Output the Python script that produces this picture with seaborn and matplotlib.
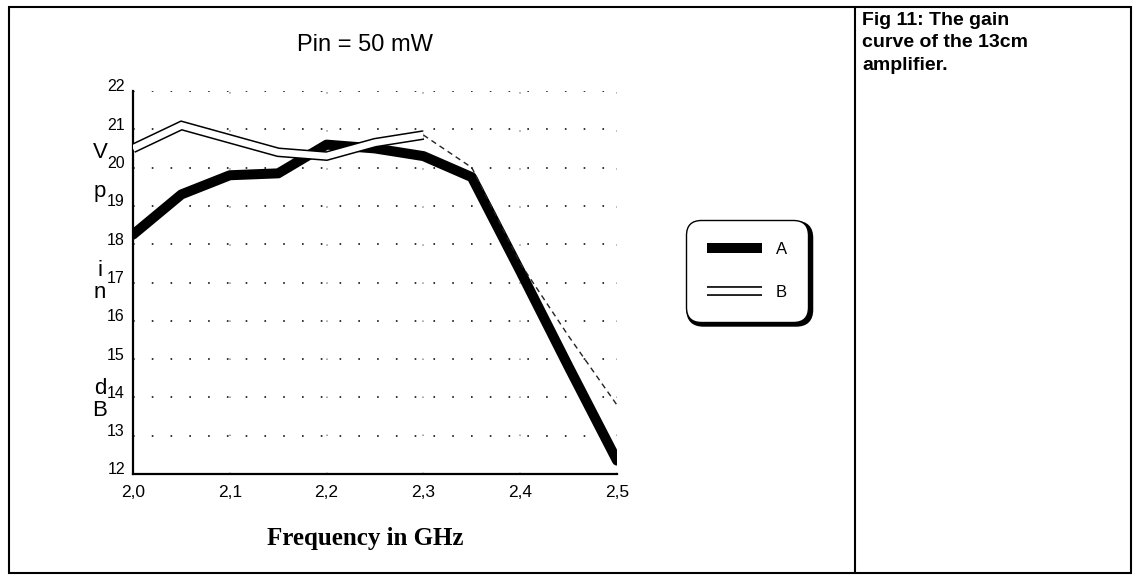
import numpy as np
import pandas as pd
import matplotlib
matplotlib.use("Agg")
import matplotlib.pyplot as plt
from matplotlib.lines import Line2D
from matplotlib.patches import Rectangle
from matplotlib.legend_handler import HandlerTuple
from matplotlib.transforms import ScaledTranslation
import seaborn as sns

# Measured gain of the 13cm amplifier at Pin = 50 mW
freq_ghz = [2.00, 2.05, 2.10, 2.15, 2.20, 2.25, 2.30, 2.35, 2.40, 2.45, 2.50]
gain_a = [18.25, 19.3, 19.8, 19.85, 20.6, 20.5, 20.3, 19.75, 17.3, 14.8, 12.35]
gain_b = [20.5, 21.1, 20.75, 20.4, 20.3, 20.65, 20.85, 20.0, 17.5, 15.6, 13.8]
series_names = ["A", "B"]
x_ticks = [2.0, 2.1, 2.2, 2.3, 2.4, 2.5]
x_tick_labels = ["2,0", "2,1", "2,2", "2,3", "2,4", "2,5"]
y_ticks = list(range(12, 23))
title_text = "Pin = 50 mW"
x_label = "Frequency in GHz"
y_label_letters = ["V", "p", "i", "n", "d", "B"]
caption = "Fig 11: The gain\ncurve of the 13cm\namplifier."

df_a = pd.DataFrame({"freq": freq_ghz, "gain": gain_a})
df_b = pd.DataFrame({"freq": freq_ghz, "gain": gain_b})

sns.set_style("white")
plt.rcParams["font.family"] = ["Liberation Sans", "DejaVu Sans"]
plt.rcParams["text.color"] = "black"
plt.rcParams["axes.labelcolor"] = "black"
plt.rcParams["xtick.color"] = "black"
plt.rcParams["ytick.color"] = "black"

W, H = 1139, 580
fig = plt.figure(figsize=(W / 100, H / 100), dpi=100)
fig.patch.set_facecolor("white")


def fx(px):
    return px / W


def fy(py):
    return 1 - py / H


ax = fig.add_axes([fx(133), fy(474), fx(617) - fx(133), fy(91) - fy(474)])
ax.set_xlim(2.0, 2.5)
ax.set_ylim(12, 22)

# dotted grid
for yv in y_ticks[1:]:
    ax.axhline(yv, color="#222222", lw=1.3, ls=(0, (0.9, 9.5)), zorder=0)
for xv in x_ticks[1:]:
    ax.axvline(xv, color="#555555", lw=1.1, ls=(0, (0.9, 24)), alpha=0.7, zorder=0)

# series A: heavy black curve
sns.lineplot(data=df_a, x="freq", y="gain", ax=ax, color="black", lw=7.2,
             solid_capstyle="round", solid_joinstyle="round", zorder=3,
             legend=False)

# series B: outlined (hollow) curve, thin dashed tail above 2.3 GHz
n_solid = freq_ghz.index(2.30) + 1
df_b_head = df_b.iloc[:n_solid]
df_b_tail = df_b.iloc[n_solid - 1:]
sns.lineplot(data=df_b_head, x="freq", y="gain", ax=ax, color="black", lw=7.0,
             solid_joinstyle="miter", solid_capstyle="butt", zorder=4, legend=False)
sns.lineplot(data=df_b_head, x="freq", y="gain", ax=ax, color="white", lw=4.8,
             solid_joinstyle="miter", solid_capstyle="butt", zorder=5, legend=False)
sns.lineplot(data=df_b_tail, x="freq", y="gain", ax=ax, color="#222222", lw=1.0,
             ls=(0, (4, 3)), zorder=5, legend=False)

# axes styling
for side in ("top", "right"):
    ax.spines[side].set_visible(False)
for side in ("left", "bottom"):
    ax.spines[side].set_color("black")
    ax.spines[side].set_linewidth(1.6)
ax.set_xticks(x_ticks)
ax.set_xticklabels(x_tick_labels, fontsize=12.5)
ax.set_yticks(y_ticks)
ax.set_yticklabels([str(v) for v in y_ticks], fontsize=11.5)
ax.tick_params(axis="y", direction="out", length=5, width=1.5, pad=0.8, colors="black")
ax.tick_params(axis="x", direction="out", length=4, width=1.5, pad=4, colors="black")
ax.set_xlabel("")
ax.set_ylabel("")
ax.set_facecolor("white")
# y labels sit slightly above their ticks
raise_lbl = ScaledTranslation(0, 4 / 72, fig.dpi_scale_trans)
for lbl in ax.get_yticklabels():
    lbl.set_transform(lbl.get_transform() + raise_lbl)

# legend
handle_a = Line2D([], [], color="black", lw=7.2, solid_capstyle="butt")
handle_b = (Line2D([], [], color="black", lw=7.0, solid_capstyle="butt"),
            Line2D([], [], color="white", lw=4.6, solid_capstyle="butt"))
leg = ax.legend([handle_a, handle_b], series_names,
                handler_map={tuple: HandlerTuple(ndivide=1, pad=0)},
                loc="center", bbox_to_anchor=(fx(747), fy(271)),
                bbox_transform=fig.transFigure, fontsize=12,
                handlelength=3.3, handletextpad=0.8, labelspacing=1.7,
                borderpad=1.1, borderaxespad=0, frameon=True, fancybox=True,
                shadow={"facecolor": "black", "edgecolor": "black",
                        "linewidth": 3, "alpha": 1.0})
for txt in leg.get_texts():
    txt.set_color("black")
frame = leg.get_frame()
frame.set_edgecolor("black")
frame.set_linewidth(1.0)
frame.set_facecolor("white")
frame.set_alpha(1.0)
frame.set_boxstyle("round", pad=0.2, rounding_size=0.9)

# titles and labels
fig.text(fx(365), fy(45), title_text, ha="center", va="center", fontsize=17,
         color="black")
fig.text(fx(365), fy(539), x_label, ha="center", va="center", fontsize=18,
         fontweight="bold", family=["Liberation Serif", "DejaVu Serif"],
         color="black")
letter_y = [153, 192, 271, 292, 388, 410]
for letter, py in zip(y_label_letters, letter_y):
    fig.text(fx(100), fy(py), letter, ha="center", va="center", fontsize=16,
             color="black")

fig.text(fx(862), fy(12), caption, ha="left", va="top", fontsize=14,
         fontweight="bold", linespacing=1.42, color="black")

# outer frame and divider
fig.add_artist(Rectangle((fx(9), fy(573)), fx(1131) - fx(9), fy(7) - fy(573),
                         transform=fig.transFigure, fill=False,
                         edgecolor="black", lw=1.5))
fig.add_artist(Line2D([fx(855), fx(855)], [fy(573), fy(7)],
                      transform=fig.transFigure, color="black", lw=1.5))

fig.savefig("out.png", dpi=100, facecolor="white")
